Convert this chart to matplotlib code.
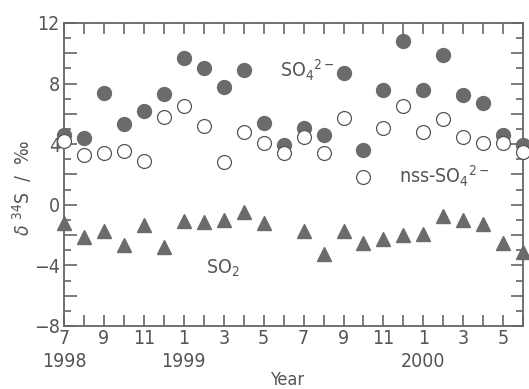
import numpy as np
import matplotlib
matplotlib.use("Agg")
import matplotlib.pyplot as plt

# month index 0 = July 1998 ... 23 = June 2000
months = np.arange(24)
so4 = [4.6, 4.4, 7.4, 5.3, 6.2, 7.3, 9.7, 9.0, 7.8, 8.9, 5.4, 3.95,
       5.05, 4.6, 8.7, 3.6, 7.6, 10.8, 7.6, 9.9, 7.25, 6.7, 4.6, 3.95]
nss_so4 = [4.2, 3.3, 3.4, 3.55, 2.9, 5.8, 6.5, 5.2, 2.85, 4.8, 4.1, 3.4,
           4.45, 3.4, 5.7, 1.8, 5.05, 6.5, 4.8, 5.65, 4.5, 4.1, 4.1, 3.5]
so2_months = [0, 1, 2, 3, 4, 5, 6, 7, 8, 9, 10, 12, 13, 14, 15, 16, 17, 18,
              19, 20, 21, 22, 23]
so2 = [-1.2, -2.1, -1.7, -2.65, -1.35, -2.8, -1.05, -1.15, -1.0, -0.5, -1.2,
       -1.75, -3.25, -1.7, -2.5, -2.25, -2.0, -1.95, -0.75, -1.0, -1.25,
       -2.5, -3.15]
month_ticks = [0, 2, 4, 6, 8, 10, 12, 14, 16, 18, 20, 22]
month_labels = ['7', '9', '11', '1', '3', '5', '7', '9', '11', '1', '3', '5']
y_ticks = [-8, -6, -4, -2, 0, 2, 4, 6, 8, 10, 12]
y_labels = ['\u22128', '', '\u22124', '', '0', '', '4', '', '8', '', '12']
years = ['1998', '1999', '2000']
year_pos = [0, 6, 18]

plt.rcParams['font.family'] = ['DejaVu Sans']
plt.rcParams['font.stretch'] = 'condensed'
axc = '#666666'
txc = '#555555'
mk = '#6b6b6b'

fig = plt.figure(figsize=(5.29, 3.89), dpi=100, facecolor='white')
ax = fig.add_axes([0.121, 0.162, 0.868, 0.779])

ax.plot(months, so4, 'o', ms=10, mfc=mk, mec=mk, clip_on=False, zorder=3)
ax.plot(months, nss_so4, 'o', ms=10, mfc='white', mec='#555555', mew=0.9,
        clip_on=False, zorder=4)
ax.plot(so2_months, so2, '^', ms=10.5, mfc=mk, mec=mk, clip_on=False, zorder=3)

ax.set_xlim(0, 23)
ax.set_ylim(-8, 12)
ax.set_xticks(months, minor=True)
ax.set_xticks(month_ticks)
ax.set_xticklabels(month_labels)
ax.set_yticks(np.arange(-7, 12, 2), minor=True)
ax.set_yticks(y_ticks)
ax.set_yticklabels(y_labels)
ax.tick_params(which='both', direction='in', top=True, right=True,
               color=axc, width=1.2, labelcolor=txc, labelsize=14)
ax.tick_params(axis='x', which='both', length=8, pad=2)
ax.tick_params(axis='y', which='major', length=9, pad=3)
ax.tick_params(axis='y', which='minor', length=5)
for s in ax.spines.values():
    s.set_color(axc)
    s.set_linewidth(1.3)

for y, p in zip(years, year_pos):
    ax.text(p, -10.35, y, ha='center', va='center', fontsize=14, color=txc)
ax.text(11.2, -11.55, 'Year', ha='center', va='center', fontsize=13, color=txc)

fig.text(22 / 529, 1 - 188 / 389, '$\\delta$ $^{34}$S  /  \u2030', rotation=90,
         ha='center', va='center', fontsize=14, color=txc)

ax.text(10.8, 8.9, r'SO$_4$$^{2-}$', fontsize=14, color=txc, va='center')
ax.text(16.8, 1.9, r'nss-SO$_4$$^{2-}$', fontsize=14, color=txc, va='center')
ax.text(7.1, -4.2, r'SO$_2$', fontsize=14, color=txc, va='center')

fig.savefig('out.png', dpi=100, facecolor='white')
